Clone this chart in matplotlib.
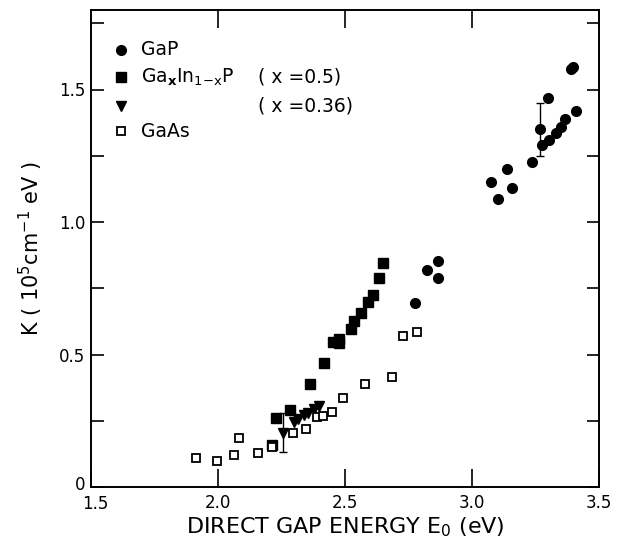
import matplotlib
matplotlib.use("Agg")
import matplotlib.pyplot as plt
import matplotlib.transforms as mtransforms
from matplotlib.ticker import MultipleLocator, FixedLocator

# ---- data ----
gap_x = [2.777, 2.824, 2.865, 2.865, 3.075, 3.104, 3.137, 3.157, 3.235,
         3.268, 3.277, 3.298, 3.304, 3.331, 3.349, 3.366, 3.390, 3.399, 3.408]
gap_y = [0.693, 0.819, 0.854, 0.790, 1.150, 1.087, 1.199, 1.129, 1.226,
         1.350, 1.289, 1.469, 1.309, 1.337, 1.360, 1.390, 1.576, 1.586, 1.418]

gainp50_x = [2.214, 2.228, 2.283, 2.363, 2.416, 2.452, 2.476, 2.476, 2.524,
             2.535, 2.563, 2.590, 2.610, 2.635, 2.650]
gainp50_y = [0.158, 0.262, 0.289, 0.390, 0.467, 0.547, 0.560, 0.542, 0.596,
             0.628, 0.655, 0.700, 0.725, 0.790, 0.845]

gainp36_x = [2.257, 2.299, 2.316, 2.339, 2.355, 2.378, 2.399]
gainp36_y = [0.203, 0.246, 0.255, 0.272, 0.278, 0.293, 0.306]

gaas_x = [1.913, 1.995, 2.064, 2.084, 2.156, 2.214, 2.294, 2.345, 2.389,
          2.415, 2.449, 2.493, 2.579, 2.685, 2.730, 2.785]
gaas_y = [0.109, 0.097, 0.119, 0.186, 0.127, 0.152, 0.203, 0.218, 0.263,
          0.268, 0.282, 0.337, 0.389, 0.414, 0.570, 0.585]

err_x = [2.257, 3.268]
err_y = [0.205, 1.348]
err_e = [0.074, 0.100]

x_ticks = [1.5, 2.0, 2.5, 3.0, 3.5]
x_labels = ["1.5", "2.0", "2.5", "3.0", "3.5"]
y_ticks = [0, 0.5, 1.0, 1.5]
y_labels = ["0", "0.5", "1.0", "1.5"]

plt.rcParams['font.family'] = ['DejaVu Sans']

fig = plt.figure(figsize=(6.18, 5.44), dpi=100)
ax = fig.add_axes([91/618, 57/544, 508/618, 477/544])

ax.plot(gap_x, gap_y, 'o', color='black', markersize=7, linestyle='none')
ax.plot(gainp50_x, gainp50_y, 's', color='black', markersize=6.5, linestyle='none')
ax.plot(gainp36_x, gainp36_y, 'v', color='black', markersize=7.5, linestyle='none')
ax.plot(gaas_x, gaas_y, 's', markerfacecolor='white', markeredgecolor='black',
        markeredgewidth=1.3, markersize=6, linestyle='none')
ax.errorbar(err_x, err_y, yerr=err_e, fmt='none', ecolor='black',
            elinewidth=1.0, capsize=3, capthick=1.0)

ax.set_xlim(1.5, 3.5)
ax.set_ylim(0, 1.8)
ax.xaxis.set_major_locator(FixedLocator(x_ticks))
ax.set_xticklabels(x_labels)
ax.yaxis.set_major_locator(FixedLocator(y_ticks))
ax.set_yticklabels(y_labels)
ax.yaxis.set_minor_locator(MultipleLocator(0.25))

ax.tick_params(axis='both', which='both', direction='in', top=True, right=True,
               labelsize=12, width=1.2)
ax.tick_params(axis='x', which='major', length=13, pad=5)
ax.tick_params(axis='y', which='major', length=9, pad=4)
ax.tick_params(axis='y', which='minor', length=9)
for s in ax.spines.values():
    s.set_linewidth(1.4)

# shift corner labels apart like the reference
xl0 = ax.get_xticklabels()[0]
xl0.set_transform(xl0.get_transform() + mtransforms.ScaledTranslation(4/100, -1/100, fig.dpi_scale_trans))
yl0 = ax.get_yticklabels()[0]
yl0.set_transform(yl0.get_transform() + mtransforms.ScaledTranslation(0, 4/100, fig.dpi_scale_trans))

ax.set_xlabel(r"DIRECT GAP ENERGY E$_0$ (eV)", fontsize=16, labelpad=2)
ax.set_ylabel(r"K ( 10$^5$cm$^{-1}$ eV )", fontsize=15, labelpad=10)

# legend (manual)
lx_m, lx_t, lx_p = 1.618, 1.697, 2.157
rows = [1.65, 1.547, 1.438, 1.343]
fs = 13.5
ax.plot([lx_m], [rows[0]], 'o', color='black', markersize=7)
ax.text(lx_t, rows[0], "GaP", fontsize=fs, va='center')
ax.plot([lx_m], [rows[1]], 's', color='black', markersize=6.5)
ax.text(lx_t, rows[1], r"Ga$_\mathbf{x}$In$_{1\mathrm{-x}}$P", fontsize=fs, va='center')
ax.text(lx_p, rows[1], "( x =0.5)", fontsize=fs, va='center')
ax.plot([lx_m], [rows[2]], 'v', color='black', markersize=7.5)
ax.text(lx_p, rows[2], "( x =0.36)", fontsize=fs, va='center')
ax.plot([lx_m], [rows[3]], 's', markerfacecolor='white', markeredgecolor='black',
        markeredgewidth=1.3, markersize=6)
ax.text(lx_t, rows[3], "GaAs", fontsize=fs, va='center')

fig.savefig("out.png", dpi=100)
